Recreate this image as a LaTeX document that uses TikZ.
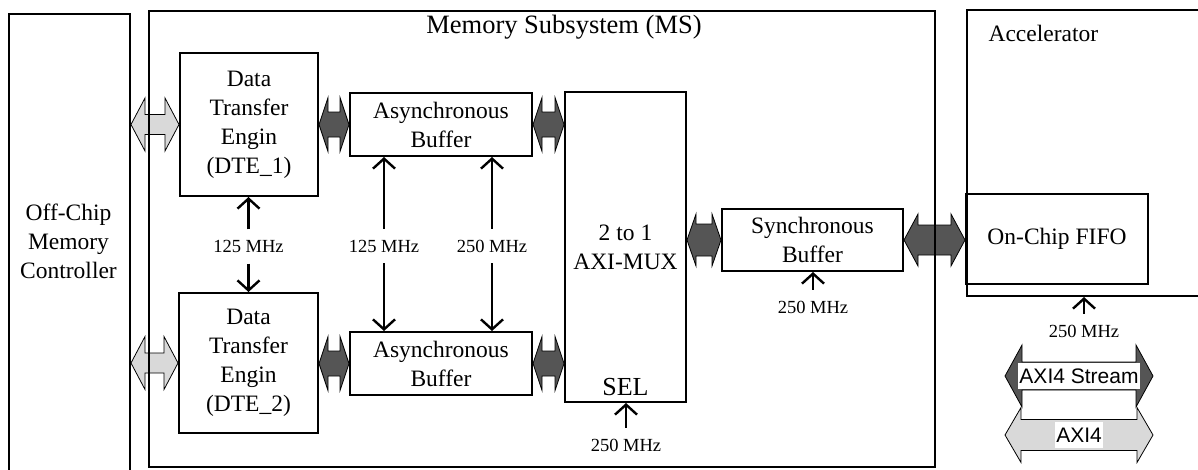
\documentclass[tikz,border=0pt]{standalone}
\usepackage{fontspec}
\setmainfont{Liberation Serif}
\newfontfamily\legendfont{Liberation Sans}
\usepackage{xcolor}
\definecolor{busdark}{RGB}{85,85,85}
\definecolor{buslight}{RGB}{217,217,217}
\usepackage{tikz}
\usetikzlibrary{calc}
\usetikzlibrary{arrows.meta}
\newcommand{\bigfont}{\fontsize{23.5}{29}\selectfont}
\newcommand{\clkfont}{\fontsize{18.5}{20}\selectfont}
% #1 style, #2 from, #3 to, #4 half head, #5 half shaft, #6 head length
\newcommand{\busarrow}[6]{
    \path[#1] let \p1=#2, \p2=#3 in
        (\x1,\y1) -- ({\x1+#6},{\y1+#4}) -- ({\x1+#6},{\y1+#5}) -- ({\x2-#6},{\y1+#5})
        -- ({\x2-#6},{\y1+#4}) -- (\x2,\y1) -- ({\x2-#6},{\y1-#4}) -- ({\x2-#6},{\y1-#5})
        -- ({\x1+#6},{\y1-#5}) -- ({\x1+#6},{\y1-#4}) -- cycle;
}
\tikzset{
    unit/.style={draw, rectangle, line width=2pt, align=center, font=\bigfont, inner sep=0pt},
    frame/.style={unit, anchor=north west},
    clk/.style={-{Straight Barb[length=10pt, width=22pt]}, line width=2.4pt},
    clklabel/.style={font=\clkfont, inner sep=1pt, minimum height=34pt},
    darkbus/.style={fill=busdark, draw=black, line width=0.8pt},
    lightbus/.style={fill=buslight, draw=black, line width=0.8pt},
    tag/.style={fill=white, inner sep=1pt, minimum height=26pt, font=\legendfont\fontsize{21}{21}\selectfont}
}
\begin{document}
\begin{tikzpicture}[x=1pt, y=-1pt]
        \useasboundingbox (0,0) rectangle (1198,469);
        \clip (0,0) rectangle (1198,469);

        % outer blocks
        \node[frame, minimum width=121pt, minimum height=480pt] (offchip) at (8,13) {};
        \node[font=\bigfont, align=center] (offchip-text) at (68.5,241) {Off-Chip\\Memory\\Controller};
        \node[frame, minimum width=300pt, minimum height=286pt] (accel) at (966,9) {};
        \node[font=\bigfont, anchor=west] (accel-text) at (985,33) {Accelerator};

        % memory subsystem
        \node[unit, minimum width=138pt, minimum height=143pt] (dte1) at (249,124.5) {Data\\Transfer\\Engin\\(DTE\_1)};
        \node[unit, minimum width=139pt, minimum height=140pt] (dte2) at (248.5,363) {Data\\Transfer\\Engin\\(DTE\_2)};
        \node[unit, minimum width=182pt, minimum height=63pt] (abuf1) at (441,124.5) {Asynchronous\\Buffer};
        \node[unit, minimum width=182pt, minimum height=63pt] (abuf2) at (441,363.5) {Asynchronous\\Buffer};
        \node[unit, minimum width=121pt, minimum height=310pt] (mux) at (625.5,247) {2 to 1\\AXI-MUX};
        \node[font=\fontsize{26}{26}\selectfont] (sel) at (625.5,387) {SEL};
        \node[unit, minimum width=181pt, minimum height=62pt] (sbuf) at (812.5,240) {Synchronous\\Buffer};
        \node[unit, minimum width=182pt, minimum height=90pt] (fifo) at (1057,239) {On-Chip FIFO};

        % clocks
        \node[clklabel] (clk-dte) at (248.5,246.5) {125 MHz};
        \node[clklabel] (clk-a125) at (384,246) {125 MHz};
        \node[clklabel] (clk-a250) at (492,246) {250 MHz};
        \node[clklabel] (clk-sel) at (626,445) {250 MHz};
        \node[clklabel] (clk-sbuf) at (813,307) {250 MHz};
        \node[clklabel] (clk-acc) at (1084,331) {250 MHz};

        \draw[clk] (clk-dte.north) -- (clk-dte.north |- dte1.south);
        \draw[clk] (clk-dte.south) -- (clk-dte.south |- dte2.north);
        \draw[clk] (clk-a125.north) -- (clk-a125.north |- abuf1.south);
        \draw[clk] (clk-a125.south) -- (clk-a125.south |- abuf2.north);
        \draw[clk] (clk-a250.north) -- (clk-a250.north |- abuf1.south);
        \draw[clk] (clk-a250.south) -- (clk-a250.south |- abuf2.north);
        \draw[clk] (clk-sel.north) -- (clk-sel.north |- mux.south);
        \draw[clk] (clk-sbuf.north) -- (clk-sbuf.north |- sbuf.south);
        \draw[clk] (clk-acc.north) -- (clk-acc.north |- accel.south);

        % buses
        \busarrow{lightbus}{(offchip.east |- dte1.west)}{(dte1.west)}{26.5pt}{10pt}{14pt}
        \busarrow{lightbus}{(offchip.east |- dte2.west)}{(dte2.west)}{26.5pt}{10pt}{14pt}
        \busarrow{darkbus}{(dte1.east |- abuf1.west)}{(abuf1.west)}{27pt}{12.5pt}{9pt}
        \busarrow{darkbus}{(dte2.east |- abuf2.west)}{(abuf2.west)}{27pt}{12.5pt}{9pt}
        \busarrow{darkbus}{(abuf1.east)}{(abuf1.east -| mux.west)}{27pt}{12.5pt}{9pt}
        \busarrow{darkbus}{(abuf2.east)}{(abuf2.east -| mux.west)}{27pt}{12.5pt}{9pt}
        \busarrow{darkbus}{(mux.east |- sbuf.west)}{(sbuf.west)}{26pt}{16pt}{9pt}
        \busarrow{darkbus}{(sbuf.east)}{(sbuf.east -| fifo.west)}{26pt}{15pt}{14pt}

        % legend
        \coordinate (stream-l) at (1005,376);
        \coordinate (stream-r) at (1153,376);
        \coordinate (axi-l) at (1005,435);
        \coordinate (axi-r) at (1153,435);
        \busarrow{darkbus}{(stream-l)}{(stream-r)}{31pt}{14pt}{17pt}
        \busarrow{lightbus}{(axi-l)}{(axi-r)}{27.5pt}{15.5pt}{16pt}
        \node[tag] (stream-tag) at ($(stream-l)!0.5!(stream-r)$) {AXI4 Stream};
        \node[tag] (axi-tag) at ($(axi-l)!0.5!(axi-r)$) {AXI4};

        % subsystem frame on top of the buses
        \node[frame, minimum width=786pt, minimum height=456pt] (ms) at (148,10) {};
        \node[font=\fontsize{26.5}{26.5}\selectfont] (ms-text) at (564,27) {Memory Subsystem (MS)};

    \end{tikzpicture}
\end{document}
